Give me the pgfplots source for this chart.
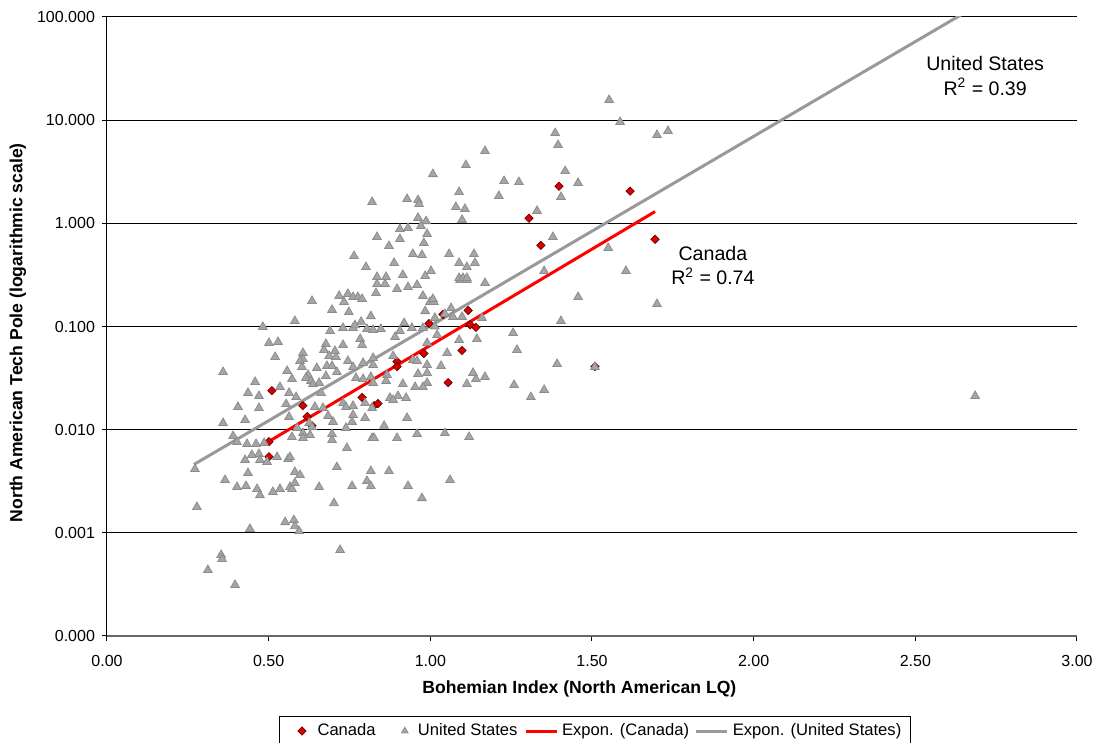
\documentclass[border=0pt]{standalone}
\usepackage{fontspec}
\setmainfont{Liberation Sans}
\usepackage{pgfplots}
\usepackage{pgfplotstable}
\pgfplotsset{compat=1.18}
\definecolor{usfill}{HTML}{A6A6A6}
\definecolor{usedge}{HTML}{8C8C8C}
\definecolor{cafill}{HTML}{DD0000}
\definecolor{caedge}{HTML}{700000}
\definecolor{ustrend}{HTML}{999999}
\pgfplotsset{
  caleg/.style={legend image code/.code={\path (0pt,0pt) (14pt,0pt);
    \draw[##1] plot coordinates {(8.5pt,0pt)};}},
  usleg/.style={legend image code/.code={\path (0pt,0pt) (9.3pt,0pt);
    \draw[##1, mark size=1.9pt] plot coordinates {(5pt,0pt)};}},
  lineleg/.style={legend image code/.code={\draw[##1] (0pt,0pt) -- (15.5pt,0pt);}},
}

\pgfplotstableread{
x y
0.501 0.00765
0.501 0.00547
0.510 0.0239
0.606 0.0171
0.619 0.0134
0.634 0.0109
0.789 0.0205
0.826 0.0171
0.838 0.0179
0.897 0.0457
0.897 0.0409
0.980 0.0547
0.996 0.107
1.039 0.131
1.055 0.0286
1.098 0.0585
1.117 0.143
1.123 0.104
1.141 0.098
1.305 1.12
1.342 0.611
1.398 2.29
1.509 0.0409
1.618 2.05
1.695 0.70
}\canada

\pgfplotstableread{
x y
0.835 0.258
0.860 0.258
0.897 0.231
0.931 0.241
0.959 0.253
1.092 0.282
1.113 0.282
0.634 0.177
0.718 0.198
0.745 0.207
0.761 0.193
0.776 0.193
0.789 0.185
0.733 0.173
0.832 0.211
0.696 0.145
0.748 0.138
0.816 0.126
0.977 0.198
0.999 0.173
1.011 0.173
0.984 0.141
1.064 0.151
1.045 0.132
1.070 0.124
1.098 0.124
0.482 0.099
0.581 0.113
0.690 0.0905
0.730 0.0968
0.761 0.0968
0.767 0.103
0.786 0.111
0.804 0.0946
0.823 0.0924
0.847 0.0946
0.919 0.108
0.906 0.0905
0.943 0.0968
0.977 0.0968
1.014 0.100
0.891 0.0792
0.990 0.0692
1.089 0.0740
1.144 0.0757
0.501 0.0692
0.529 0.0708
0.520 0.0507
0.359 0.0362
0.557 0.0371
0.572 0.0310
0.458 0.0290
0.436 0.0227
0.470 0.0212
0.535 0.0259
0.563 0.0227
0.585 0.0207
0.677 0.0677
0.730 0.0662
0.783 0.0757
0.789 0.0662
0.671 0.0593
0.705 0.0579
0.687 0.0518
0.708 0.0507
0.606 0.0554
0.606 0.0484
0.597 0.0463
0.603 0.0405
0.649 0.0396
0.680 0.0414
0.696 0.0414
0.711 0.0362
0.745 0.0463
0.761 0.0405
0.792 0.0443
0.823 0.0424
0.823 0.0495
0.677 0.0331
0.622 0.0339
0.615 0.0317
0.631 0.0297
0.637 0.0277
0.656 0.0284
0.770 0.0317
0.792 0.0310
0.816 0.0324
0.823 0.0284
0.866 0.0339
0.863 0.0297
0.885 0.0518
0.946 0.0474
0.959 0.0463
0.990 0.0424
1.033 0.0414
0.962 0.0347
0.990 0.0355
1.052 0.0554
1.132 0.0355
1.141 0.0310
1.113 0.0277
0.990 0.0284
0.977 0.0259
0.953 0.0259
0.915 0.0277
0.662 0.0227
0.405 0.0166
0.470 0.0162
0.554 0.0177
0.643 0.0166
0.668 0.0162
0.684 0.0136
0.730 0.0181
0.761 0.0170
0.739 0.0166
0.798 0.0181
0.820 0.0162
0.875 0.0203
0.900 0.0212
0.925 0.0203
0.885 0.0194
0.928 0.0130
0.761 0.0139
0.798 0.0130
0.857 0.0109
0.758 0.0119
0.359 0.0116
0.427 0.0124
0.563 0.0133
0.625 0.0116
0.634 0.0106
0.699 0.0119
0.739 0.0104
0.588 0.0104
0.606 0.00927
0.628 0.00887
0.390 0.00867
0.402 0.00759
0.433 0.00726
0.461 0.00726
0.486 0.00742
0.572 0.00849
0.606 0.00830
0.696 0.00907
0.696 0.00794
0.820 0.00830
0.826 0.00830
0.897 0.00830
0.959 0.00907
1.045 0.00927
1.120 0.00849
0.742 0.00664
0.470 0.00581
0.448 0.00568
0.427 0.00508
0.473 0.00508
0.495 0.00486
0.526 0.00543
0.560 0.00519
0.566 0.00543
0.272 0.00415
0.711 0.00434
0.816 0.00397
0.872 0.00397
0.436 0.00380
0.581 0.00389
0.597 0.00363
0.365 0.00325
1.061 0.00325
0.402 0.00278
0.430 0.00284
0.464 0.00266
0.473 0.00232
0.513 0.00249
0.535 0.00266
0.566 0.00278
0.572 0.00266
0.581 0.00304
0.656 0.00278
0.758 0.00284
0.804 0.00318
0.816 0.00284
0.931 0.00284
0.974 0.00217
0.702 0.00194
0.278 0.00178
0.551 0.00127
0.578 0.00133
0.581 0.00116
0.594 0.00104
0.442 0.00109
0.721 0.000682
0.353 0.000610
0.356 0.000557
0.312 0.000436
0.396 0.000312
1.386 7.50
1.395 5.74
1.169 5.02
1.110 3.67
1.008 3.00
1.417 3.21
1.228 2.57
1.274 2.51
1.457 2.46
1.212 1.84
1.404 1.80
0.820 1.61
0.928 1.72
0.962 1.68
0.965 1.54
1.089 2.01
1.079 1.44
1.107 1.38
1.330 1.32
0.962 1.13
0.987 1.05
1.098 1.08
0.971 0.942
0.906 0.881
0.931 0.901
0.990 0.788
0.835 0.737
0.906 0.705
1.379 0.737
0.872 0.603
0.980 0.645
0.764 0.482
0.946 0.504
0.974 0.493
1.058 0.504
1.135 0.504
0.888 0.413
1.089 0.413
1.138 0.413
1.113 0.377
0.801 0.377
1.002 0.345
1.352 0.345
0.915 0.316
0.984 0.309
0.835 0.302
0.863 0.302
1.089 0.295
1.101 0.295
1.113 0.295
1.169 0.264
1.008 0.185
1.457 0.193
1.553 15.7
1.587 9.6
1.701 7.18
1.735 7.85
1.550 0.577
1.605 0.345
1.701 0.165
1.404 0.113
1.392 0.0433
1.509 0.0405
1.014 0.121
1.160 0.121
1.256 0.0866
1.268 0.0593
1.021 0.0828
1.169 0.0324
1.259 0.0271
1.311 0.0207
1.352 0.0243
2.685 0.0212
}\usdata

\begin{document}
\begin{tikzpicture}
\useasboundingbox (-53.5pt,-53.5pt) rectangle (496pt,318pt);
\begin{axis}[
  scale only axis,
  width=485pt, height=309.5pt,
  xmin=0, xmax=3,
  ymode=log, ymin=0.0001, ymax=100,
  axis x line*=bottom, axis y line*=left,
  x axis line style={draw=black!60, line width=0.6pt},
  y axis line style={draw=black, line width=0.5pt},
  xtick={0,0.5,1,1.5,2,2.5,3},
  xticklabels={0.00,0.50,1.00,1.50,2.00,2.50,3.00},
  ytick={0.0001,0.001,0.01,0.1,1,10,100},
  yticklabels={0.000,0.001,0.010,0.100,1.000,10.000,100.000},
  yminorticks=false, xminorticks=false,
  tick align=outside,
  major tick length=2.5pt,
  tick style={black, line width=0.5pt},
  ymajorgrids,
  major grid style={black, line width=0.5pt},
  ticklabel style={font=\fontsize{8}{9.6}\selectfont},
  xticklabel style={yshift=-3.5pt},
  xlabel={Bohemian Index (North American LQ)},
  ylabel={North American Tech Pole (logarithmic scale)},
  label style={font=\bfseries\fontsize{8.8}{10.5}\selectfont},
  xlabel style={at={(axis description cs:0.487,-0.0856)}, anchor=center},
  ylabel style={at={(axis description cs:-0.0918,0.49)}, anchor=center},
  legend columns=4,
  legend style={at={(axis description cs:0.503,-0.1535)}, anchor=center,
    draw=black, line width=0.5pt, font=\fontsize{8.3}{10}\selectfont,
    inner xsep=2.5pt, inner ysep=1.5pt,
    /tikz/column 2/.style={column sep=7.3pt},
    /tikz/column 4/.style={column sep=1.3pt},
    /tikz/column 6/.style={column sep=0.8pt}},
  legend cell align=left,
  clip=true,
]
\addplot[only marks, mark=square*, mark size=1.45pt,
  mark options={rotate=45, fill=cafill, draw=caedge, line width=0.4pt}, caleg]
  table[x=x,y=y] {\canada};
\addlegendentry{Canada}
\addplot[only marks, mark=triangle*, mark size=2.5pt,
  mark options={fill=usfill, draw=usedge, line width=0.4pt}, usleg]
  table[x=x,y=y] {\usdata};
\addlegendentry{United States}
\addplot[red, line width=1.5pt, lineleg]
  coordinates {(0.501,0.0077) (1.695,1.30)};
\addlegendentry{Expon. (Canada)}
\addplot[ustrend, line width=1.5pt, lineleg]
  coordinates {(0.269,0.0046) (2.69,129)};
\addlegendentry{Expon. (United States)}
\node[align=center, font=\fontsize{9.8}{12}\selectfont] at (axis cs:2.716,26.8)
  {United States\\R$^{\mathrm{2}}$ = 0.39};
\node[align=center, font=\fontsize{9.8}{12}\selectfont] at (axis cs:1.874,0.386)
  {Canada\\R$^{\mathrm{2}}$ = 0.74};
\end{axis}
\end{tikzpicture}
\end{document}
